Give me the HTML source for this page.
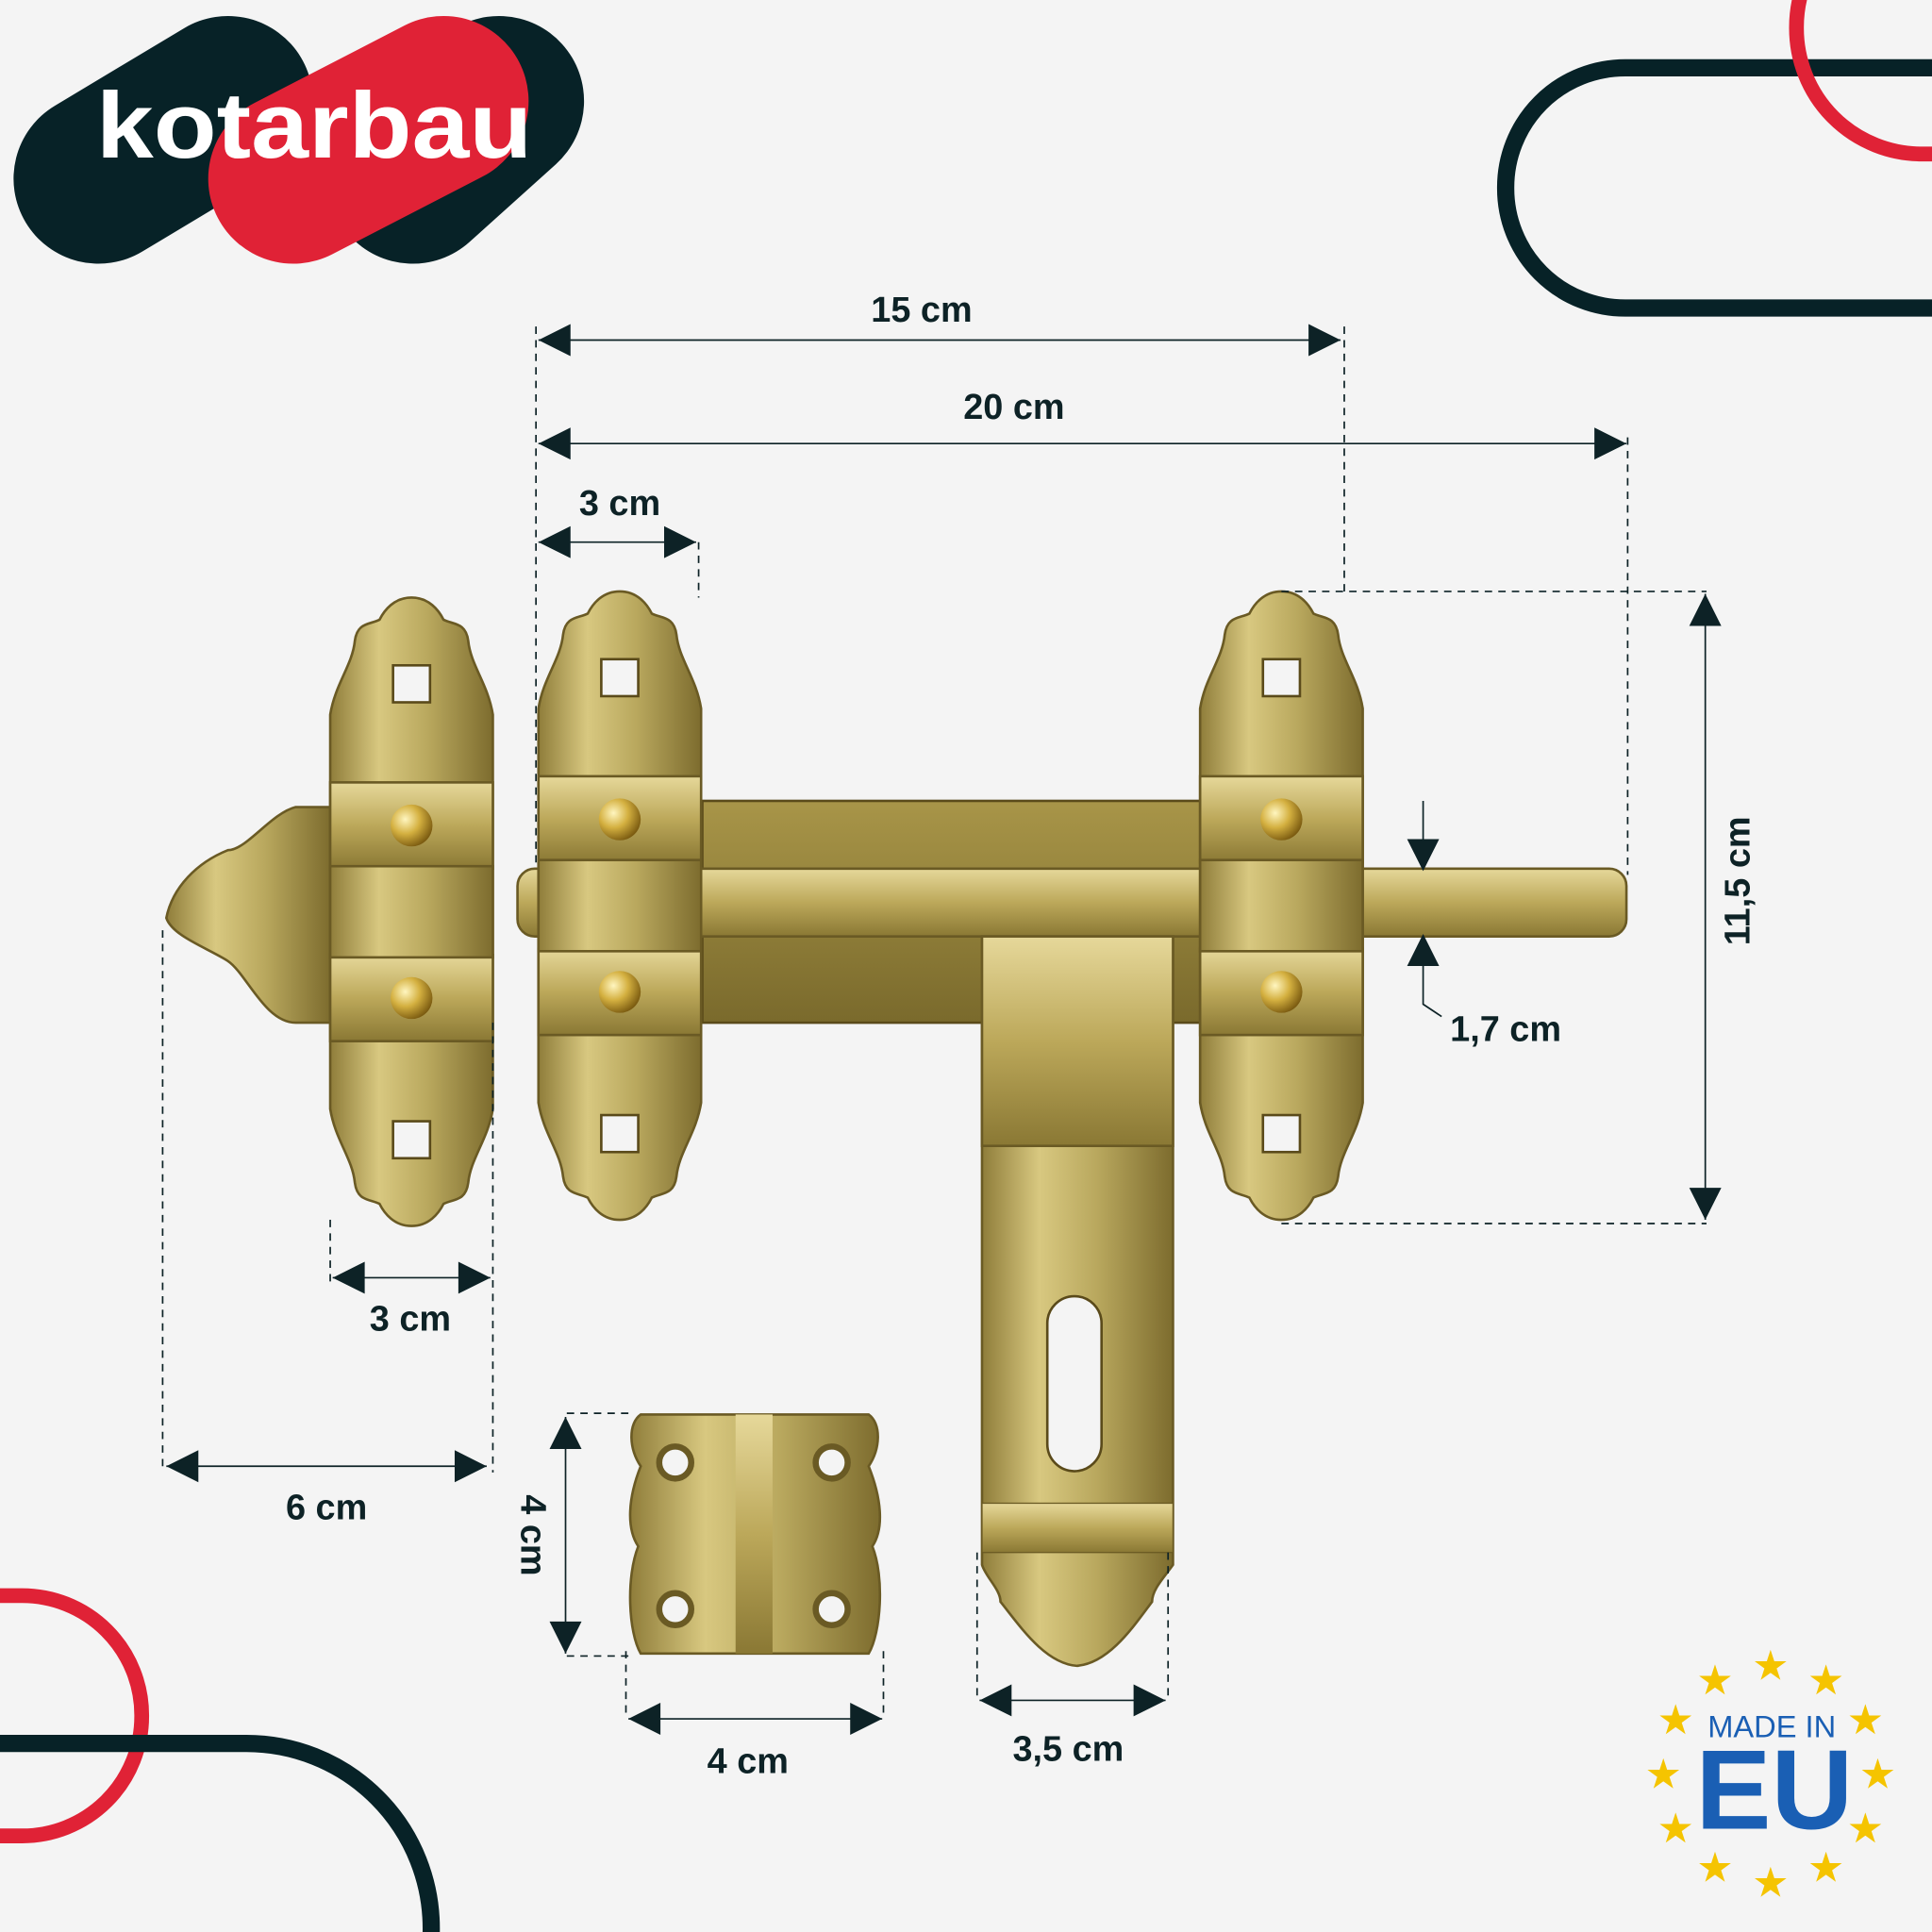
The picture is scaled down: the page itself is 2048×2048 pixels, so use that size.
<!DOCTYPE html>
<html><head><meta charset="utf-8"><style>
html,body{margin:0;padding:0;background:#f4f4f4;width:2048px;height:2048px;overflow:hidden}
svg{display:block}
text{font-family:"Liberation Sans",sans-serif;font-weight:bold;fill:#0d2226}
</style></head><body>
<svg width="2048" height="2048" viewBox="0 0 1568 1568" xmlns="http://www.w3.org/2000/svg">
<defs>
<linearGradient id="b" x1="0" x2="1" y1="0" y2="0">
<stop offset="0" stop-color="#8f7d3a"/><stop offset="0.3" stop-color="#d8c880"/><stop offset="0.6" stop-color="#b9a85e"/><stop offset="1" stop-color="#7d6c2e"/></linearGradient>
<linearGradient id="bv" x1="0" x2="0" y1="0" y2="1">
<stop offset="0" stop-color="#e6d89a"/><stop offset="0.5" stop-color="#bca85a"/><stop offset="1" stop-color="#8a7834"/></linearGradient>
<linearGradient id="bar" x1="0" x2="0" y1="0" y2="1">
<stop offset="0" stop-color="#a89548"/><stop offset="1" stop-color="#7a6a2c"/></linearGradient>
<radialGradient id="r" cx="0.35" cy="0.35" r="0.7"><stop offset="0" stop-color="#fff6c0"/><stop offset="0.5" stop-color="#d4b040"/><stop offset="1" stop-color="#7a5a10"/></radialGradient>
<g id="plate">
<path d="M66,0 C80,0 88,10 92,18 C100,22 110,20 112,35 C114,55 128,70 132,95 L132,415 C128,440 114,455 112,475 C110,490 100,488 92,492 C88,500 80,510 66,510 C52,510 44,500 40,492 C32,488 22,490 20,475 C18,455 4,440 0,415 L0,95 C4,70 18,55 20,35 C22,20 32,22 40,18 C44,10 52,0 66,0 Z" fill="url(#b)" stroke="#6a5a24" stroke-width="2"/>
<rect x="51" y="55" width="30" height="30" fill="#f4f4f4" stroke="#5a4a1a" stroke-width="2"/>
<rect x="51" y="425" width="30" height="30" fill="#f4f4f4" stroke="#5a4a1a" stroke-width="2"/>
<rect x="0" y="150" width="132" height="70" fill="url(#bv)" stroke="#6a5a24" stroke-width="2"/>
<rect x="0" y="290" width="132" height="70" fill="url(#bv)" stroke="#6a5a24" stroke-width="2"/>
<rect x="0" y="218" width="132" height="74" fill="url(#b)" stroke="#6a5a24" stroke-width="2"/>
<circle cx="66" cy="185" r="17" fill="url(#r)"/>
<circle cx="66" cy="325" r="17" fill="url(#r)"/>
</g>
<path id="ar" d="M0,0 L-26,-13 L-26,13 Z" fill="#0d2226"/>
</defs>

<!-- logo -->
<g stroke-linecap="round" stroke-width="138" fill="none">
<line x1="80" y1="145" x2="185" y2="82" stroke="#072227"/>
<line x1="405" y1="82" x2="335" y2="145" stroke="#072227"/>
<line x1="360" y1="82" x2="238" y2="145" stroke="#e02236"/>
</g>
<text x="78" y="128" font-size="76" textLength="354" lengthAdjust="spacingAndGlyphs" style="fill:#fff">kotarbau</text>

<!-- decorative outlines -->
<rect x="1222" y="55" width="460" height="195" rx="97" fill="none" stroke="#072227" stroke-width="14"/>
<rect x="1458" y="-80" width="300" height="205" rx="102" fill="none" stroke="#e02236" stroke-width="12"/>
<rect x="-200" y="1295" width="315" height="195" rx="97" fill="none" stroke="#e02236" stroke-width="12"/>
<rect x="-200" y="1415" width="550" height="300" rx="150" fill="none" stroke="#072227" stroke-width="14"/>

<!-- hardware -->
<path d="M268,655 L240,655 C220,660 200,690 185,690 C160,700 140,720 135,745 C140,760 170,770 185,780 C200,790 215,830 240,830 L268,830 Z" fill="url(#b)" stroke="#6a5a24" stroke-width="2"/>
<rect x="570" y="650" width="405" height="180" fill="url(#bar)" stroke="#5a4a1a" stroke-width="2"/>
<rect x="420" y="705" width="900" height="55" rx="14" fill="url(#bv)" stroke="#6a5a24" stroke-width="2"/>
<path d="M797,760 L952,760 L952,1270 C945,1280 935,1290 935,1300 C920,1320 900,1350 874,1352 C848,1350 828,1320 812,1300 C812,1290 800,1280 797,1270 Z" fill="url(#b)" stroke="#6a5a24" stroke-width="2"/>
<rect x="797" y="760" width="155" height="170" fill="url(#bv)" stroke="#6a5a24" stroke-width="2"/>
<rect x="797" y="1220" width="155" height="40" fill="url(#bv)" stroke="#6a5a24" stroke-width="1"/>
<rect x="850" y="1052" width="44" height="142" rx="22" fill="#f4f4f4" stroke="#5a4a1a" stroke-width="2"/>
<use href="#plate" x="268" y="485"/>
<use href="#plate" x="437" y="480"/>
<use href="#plate" x="974" y="480"/>
<!-- bracket -->
<path d="M520,1148 L705,1148 C715,1155 715,1175 705,1190 C715,1215 718,1240 708,1255 C718,1280 715,1325 705,1342 L520,1342 C510,1325 508,1280 518,1255 C508,1240 510,1215 520,1190 C510,1175 510,1155 520,1148 Z" fill="url(#b)" stroke="#6a5a24" stroke-width="2"/>
<rect x="597" y="1148" width="30" height="194" fill="url(#bv)"/>
<g fill="#f4f4f4" stroke="#6a5a24" stroke-width="5">
<circle cx="548" cy="1187" r="13"/><circle cx="675" cy="1187" r="13"/>
<circle cx="548" cy="1306" r="13"/><circle cx="675" cy="1306" r="13"/>
</g>

<!-- dimension lines -->
<g stroke="#0d2226" stroke-width="1.3" fill="none">
<g stroke-dasharray="6,5">
<line x1="435" y1="265" x2="435" y2="700"/><line x1="1091" y1="265" x2="1091" y2="480"/>
<line x1="1321" y1="355" x2="1321" y2="710"/><line x1="567" y1="440" x2="567" y2="485"/>
<line x1="1040" y1="480" x2="1385" y2="480"/><line x1="1040" y1="993" x2="1385" y2="993"/>
<line x1="268" y1="990" x2="268" y2="1040"/><line x1="400" y1="830" x2="400" y2="1195"/>
<line x1="132" y1="755" x2="132" y2="1190"/>
<line x1="460" y1="1147" x2="510" y2="1147"/><line x1="460" y1="1344" x2="510" y2="1344"/>
<line x1="508" y1="1340" x2="508" y2="1395"/><line x1="717" y1="1340" x2="717" y2="1395"/>
<line x1="793" y1="1260" x2="793" y2="1380"/><line x1="948" y1="1260" x2="948" y2="1380"/>
</g>
<line x1="437" y1="276" x2="1088" y2="276"/>
<line x1="437" y1="360" x2="1320" y2="360"/>
<line x1="437" y1="440" x2="565" y2="440"/>
<line x1="1384" y1="482" x2="1384" y2="990"/>
<line x1="1155" y1="650" x2="1155" y2="705"/>
<polyline points="1155,760 1155,815 1170,825"/>
<line x1="270" y1="1037" x2="398" y2="1037"/>
<line x1="135" y1="1190" x2="395" y2="1190"/>
<line x1="459" y1="1150" x2="459" y2="1342"/>
<line x1="510" y1="1395" x2="716" y2="1395"/>
<line x1="795" y1="1380" x2="946" y2="1380"/>
</g>
<g>
<use href="#ar" transform="translate(437,276) rotate(180)"/><use href="#ar" transform="translate(1088,276)"/>
<use href="#ar" transform="translate(437,360) rotate(180)"/><use href="#ar" transform="translate(1320,360)"/>
<use href="#ar" transform="translate(437,440) rotate(180)"/><use href="#ar" transform="translate(565,440)"/>
<use href="#ar" transform="translate(1384,482) rotate(-90)"/><use href="#ar" transform="translate(1384,990) rotate(90)"/>
<use href="#ar" transform="translate(1155,707) rotate(90)"/><use href="#ar" transform="translate(1155,758) rotate(-90)"/>
<use href="#ar" transform="translate(270,1037) rotate(180)"/><use href="#ar" transform="translate(398,1037)"/>
<use href="#ar" transform="translate(135,1190) rotate(180)"/><use href="#ar" transform="translate(395,1190)"/>
<use href="#ar" transform="translate(459,1150) rotate(-90)"/><use href="#ar" transform="translate(459,1342) rotate(90)"/>
<use href="#ar" transform="translate(510,1395) rotate(180)"/><use href="#ar" transform="translate(716,1395)"/>
<use href="#ar" transform="translate(795,1380) rotate(180)"/><use href="#ar" transform="translate(946,1380)"/>
</g>
<g font-size="29" text-anchor="middle">
<text x="748" y="261">15 cm</text>
<text x="823" y="340">20 cm</text>
<text x="503" y="418">3 cm</text>
<text x="1222" y="845">1,7 cm</text>
<text x="333" y="1080">3 cm</text>
<text x="265" y="1233">6 cm</text>
<text x="607" y="1439">4 cm</text>
<text x="867" y="1429">3,5 cm</text>
<text transform="translate(1420,715) rotate(-90)">11,5 cm</text>
<text transform="translate(423,1246) rotate(90)">4 cm</text>
</g>

<!-- EU badge -->
<g font-size="30" text-anchor="middle" style="font-family:'DejaVu Sans',sans-serif">
<text x="1437" y="1362" style="fill:#f5c400">★</text>
<text x="1482" y="1374" style="fill:#f5c400">★</text>
<text x="1514" y="1406" style="fill:#f5c400">★</text>
<text x="1524" y="1450" style="fill:#f5c400">★</text>
<text x="1514" y="1494" style="fill:#f5c400">★</text>
<text x="1482" y="1526" style="fill:#f5c400">★</text>
<text x="1437" y="1538" style="fill:#f5c400">★</text>
<text x="1392" y="1526" style="fill:#f5c400">★</text>
<text x="1360" y="1494" style="fill:#f5c400">★</text>
<text x="1350" y="1450" style="fill:#f5c400">★</text>
<text x="1360" y="1406" style="fill:#f5c400">★</text>
<text x="1392" y="1374" style="fill:#f5c400">★</text>
</g>
<text x="1438" y="1410" font-size="25" text-anchor="middle" style="fill:#1a5fb4;font-weight:normal">MADE IN</text>
<text x="1440" y="1484" font-size="92" text-anchor="middle" style="fill:#1a5fb4">EU</text>
</svg>
</body></html>
